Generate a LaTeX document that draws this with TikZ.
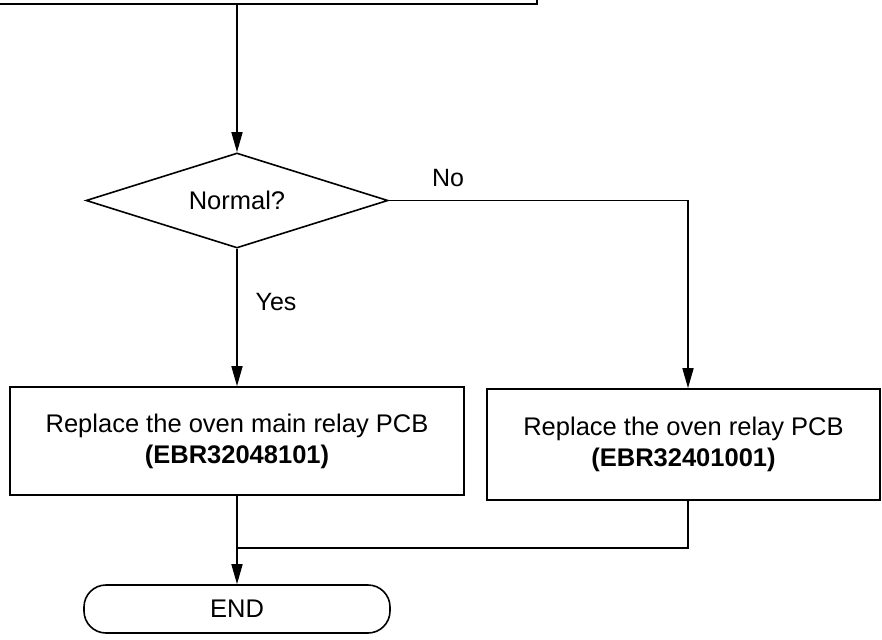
\documentclass[tikz,border=0pt]{standalone}
\usepackage{fontspec}
\setmainfont{Liberation Sans}
\usetikzlibrary{shapes.geometric,arrows.meta}
\begin{document}
\begin{tikzpicture}[x=1pt,y=-1pt, line width=1.6pt,
  box/.style={draw, rectangle, inner sep=0pt, align=center, font=\fontsize{25.5}{31}\selectfont},
  lbl/.style={font=\fontsize{25}{30}\selectfont},
  arr/.style={-{Triangle[length=20pt,width=11pt]}}]
\useasboundingbox (0,0) rectangle (882,639);
\clip (0,0) rectangle (882,639);
% partial top box
\node[box, minimum width=557pt, minimum height=60pt] (top) at (258.5,-26) {};
% decision
\node[draw, diamond, inner sep=0pt, shape aspect=3.2, minimum width=302pt, minimum height=95pt,
      font=\fontsize{25.5}{31}\selectfont] (dia) at (237,200.5) {Normal?};
% process boxes
\node[box, minimum width=454pt, minimum height=108pt] (lb) at (237,441)
  {Replace the oven main relay PCB\\\textbf{(EBR32048101)}};
\node[box, minimum width=393pt, minimum height=111pt] (rb) at (683.5,444.5)
  {Replace the oven relay PCB\\\textbf{(EBR32401001)}};
% terminal
\node[box, rounded corners=22pt, minimum width=306pt, minimum height=48pt] (en) at (237,609) {END};
% labels
\node[lbl] (no) at (448,178) {No};
\node[lbl] (yes) at (276,302) {Yes};
% helper coordinates
\coordinate (col) at (688,300);
\coordinate (join) at (237,548);
% connectors
\draw[arr] (dia.north |- top.south) -- (dia.north);
\draw[arr] (dia.south) -- (lb.north -| dia.south);
\draw[arr] (dia.east) -| (rb.north -| col);
\draw[arr] (lb.south) -- (en.north);
\draw (rb.south -| col) |- (join);
\end{tikzpicture}
\end{document}
